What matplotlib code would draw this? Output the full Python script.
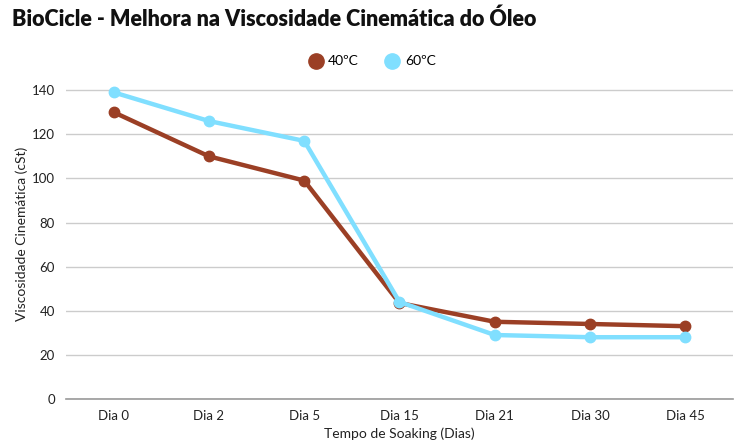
import matplotlib
matplotlib.use("Agg")
import matplotlib.pyplot as plt

days = ["Dia 0", "Dia 2", "Dia 5", "Dia 15", "Dia 21", "Dia 30", "Dia 45"]
visc_40 = [130, 110, 99, 43.5, 35, 34, 33]
visc_60 = [139, 126, 117, 44, 29, 28, 28]
y_ticks = [0, 20, 40, 60, 80, 100, 120, 140]

BROWN = "#9B3F25"
BLUE = "#80DFFF"

plt.rcParams["font.family"] = ["Lato", "DejaVu Sans"]

fig = plt.figure(figsize=(7.46, 4.45), dpi=100)
ax = fig.add_axes([0.0885, 0.1034, 0.894, 0.7436])

x = range(len(days))
ax.plot(x, visc_40, color=BROWN, lw=3.2, marker="o", ms=7.5, label="40ºC",
        solid_capstyle="round", zorder=3)
ax.plot(x, visc_60, color=BLUE, lw=3.2, marker="o", ms=7.5, label="60ºC",
        solid_capstyle="round", zorder=3)

ax.set_xlim(-0.5, len(days) - 0.5)
ax.set_ylim(0, 150)
ax.set_yticks(y_ticks)
ax.set_xticks(list(x))
ax.set_xticklabels(days)
ax.tick_params(axis="both", length=0, labelsize=9.5, colors="#222222", pad=8)
ax.yaxis.grid(True, color="#cccccc", lw=1)
ax.set_axisbelow(True)
for s in ("top", "right", "left"):
    ax.spines[s].set_visible(False)
ax.spines["bottom"].set_color("#999999")
ax.spines["bottom"].set_linewidth(1.2)

ax.set_xlabel("Tempo de Soaking (Dias)", fontsize=10, color="#222222", labelpad=4)
ax.set_ylabel("Viscosidade Cinemática (cSt)", fontsize=10, color="#222222", labelpad=3)

fig.text(0.016, 0.957, "BioCicle - Melhora na Viscosidade Cinemática do Óleo",
         fontsize=15.5, fontweight="heavy", va="center", ha="left", color="#111111")

fig.legend(handles=ax.get_lines(), loc="center", bbox_to_anchor=(0.5, 0.862),
           ncol=2, frameon=False, fontsize=10, handlelength=0.8,
           handletextpad=0.5, columnspacing=2.0)
for h in fig.legends[0].legend_handles:
    h.set_linestyle("none")
    h.set_markersize(11)

fig.savefig("out.png", dpi=100)
